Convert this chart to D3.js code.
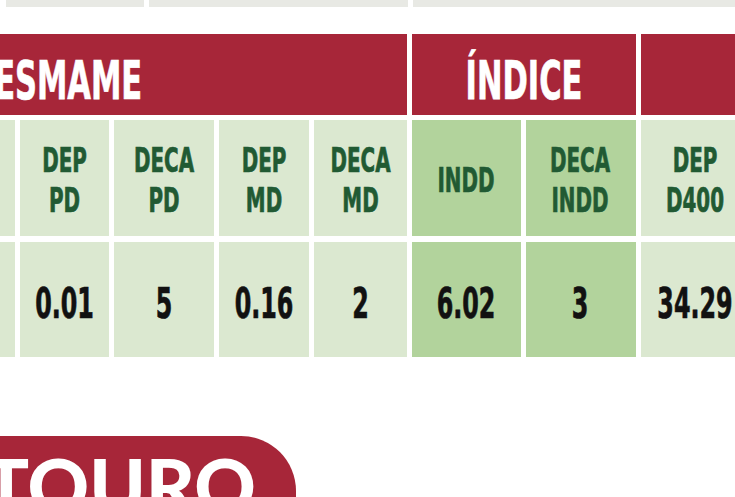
<!DOCTYPE html>
<html>
<head>
<meta charset="utf-8">
<script src="https://cdn.jsdelivr.net/npm/d3@7"></script>
<style>
  body { margin: 0; background: #fff; }
  svg { display: block; }
</style>
</head>
<body>
<div id="chart"></div>
<script>
// table content (only the visible part of the sheet)
const groupNames = ["DESMAME", "ÍNDICE", ""];
const groupSpans = [7, 2, 1];
const columnLabels = ["", "", "", "DEP PD", "DECA PD", "DEP MD", "DECA MD", "INDD", "DECA INDD", "DEP D400"];
const rowValues = [null, null, null, 0.01, 5, 0.16, 2, 6.02, 3, 34.29];
const highlighted = ["INDD", "DECA INDD"];
const footerLabel = "TOURO";

const width = 735, height = 497;
const colWidths = [95, 95, 95, 89, 100, 90, 93, 109, 110, 116];
const gap = 5;
const startX = -296;
const font = "'Liberation Sans Narrow', 'Arial Narrow', 'DejaVu Sans Condensed', sans-serif";

const red = "#a72639", light = "#dbe8d0", dark = "#b2d39c", ink = "#215a33";

// column positions from widths, hidden columns run off to the left
const edges = [startX + 16];
colWidths.slice(1).forEach((w, i) => edges.push(edges[i] + colWidths[i] + gap));
const x = d3.scaleOrdinal().domain(d3.range(colWidths.length)).range(edges);

const svg = d3.select("#chart").append("svg")
    .attr("width", width)
    .attr("height", height);

// bottom of the previous block
const prevBlocks = [[6, 144], [149, 408], [413, 760]];
svg.selectAll(".prev").data(prevBlocks).join("rect")
    .attr("x", d => d[0]).attr("y", -2)
    .attr("width", d => d[1] - d[0]).attr("height", 9)
    .attr("fill", "#e8e9e4");

// condensed bold text, squeezed horizontally around its centre
function squeezedText(g, cx, y, txt, size, color, sx) {
    g.append("text")
        .attr("transform", `translate(${cx},${y}) scale(${sx},1)`)
        .attr("text-anchor", "middle")
        .attr("font-family", font)
        .attr("font-weight", "bold")
        .attr("font-size", size)
        .attr("fill", color)
        .attr("stroke", color)
        .attr("stroke-width", 0.7)
        .text(txt);
}

// group header
let c = 0;
const groups = groupNames.map((name, i) => {
    const first = c, last = c + groupSpans[i] - 1;
    c += groupSpans[i];
    const x0 = first === 0 ? startX : x(first);
    const x1 = last < colWidths.length - 1 ? x(last) + colWidths[last] : width + 40;
    return { name, x0, x1 };
});

const gHead = svg.append("g");
groups.forEach(gr => {
    gHead.append("rect")
        .attr("x", gr.x0).attr("y", 34)
        .attr("width", gr.x1 - gr.x0).attr("height", 81)
        .attr("fill", red);
    squeezedText(gHead, (gr.x0 + gr.x1) / 2, 99, gr.name, 53, "#fff", 0.64);
});

// column headers
const gCols = svg.append("g");
columnLabels.forEach((lab, i) => {
    const fill = highlighted.includes(lab) ? dark : light;
    gCols.append("rect")
        .attr("x", x(i)).attr("y", 120)
        .attr("width", colWidths[i]).attr("height", 116)
        .attr("fill", fill);
    const lines = lab ? lab.split(" ") : [];
    const cx = x(i) + Math.min(colWidths[i], 108) / 2;
    const lh = 40;
    const base0 = 192 - (lines.length - 1) * lh / 2;
    lines.forEach((ln, j) => squeezedText(gCols, cx, base0 + j * lh, ln, 33.5, ink, 0.66));
});

// value row
const gVals = svg.append("g");
rowValues.forEach((v, i) => {
    const fill = highlighted.includes(columnLabels[i]) ? dark : light;
    gVals.append("rect")
        .attr("x", x(i)).attr("y", 242)
        .attr("width", colWidths[i]).attr("height", 115)
        .attr("fill", fill);
    const cx = x(i) + Math.min(colWidths[i], 108) / 2;
    if (v !== null) squeezedText(gVals, cx, 318, String(v), 42, "#111", 0.63);
});

// next section tab
svg.append("rect")
    .attr("x", -80).attr("y", 436)
    .attr("width", 376).attr("height", 160)
    .attr("rx", 55)
    .attr("fill", red);

svg.append("text")
    .attr("x", 256).attr("y", 514)
    .attr("text-anchor", "end")
    .attr("font-family", "Lato, 'Open Sans', sans-serif")
    .attr("font-weight", 900)
    .attr("font-size", 76)
    .attr("fill", "#fff")
    .text(footerLabel);
</script>
</body>
</html>
